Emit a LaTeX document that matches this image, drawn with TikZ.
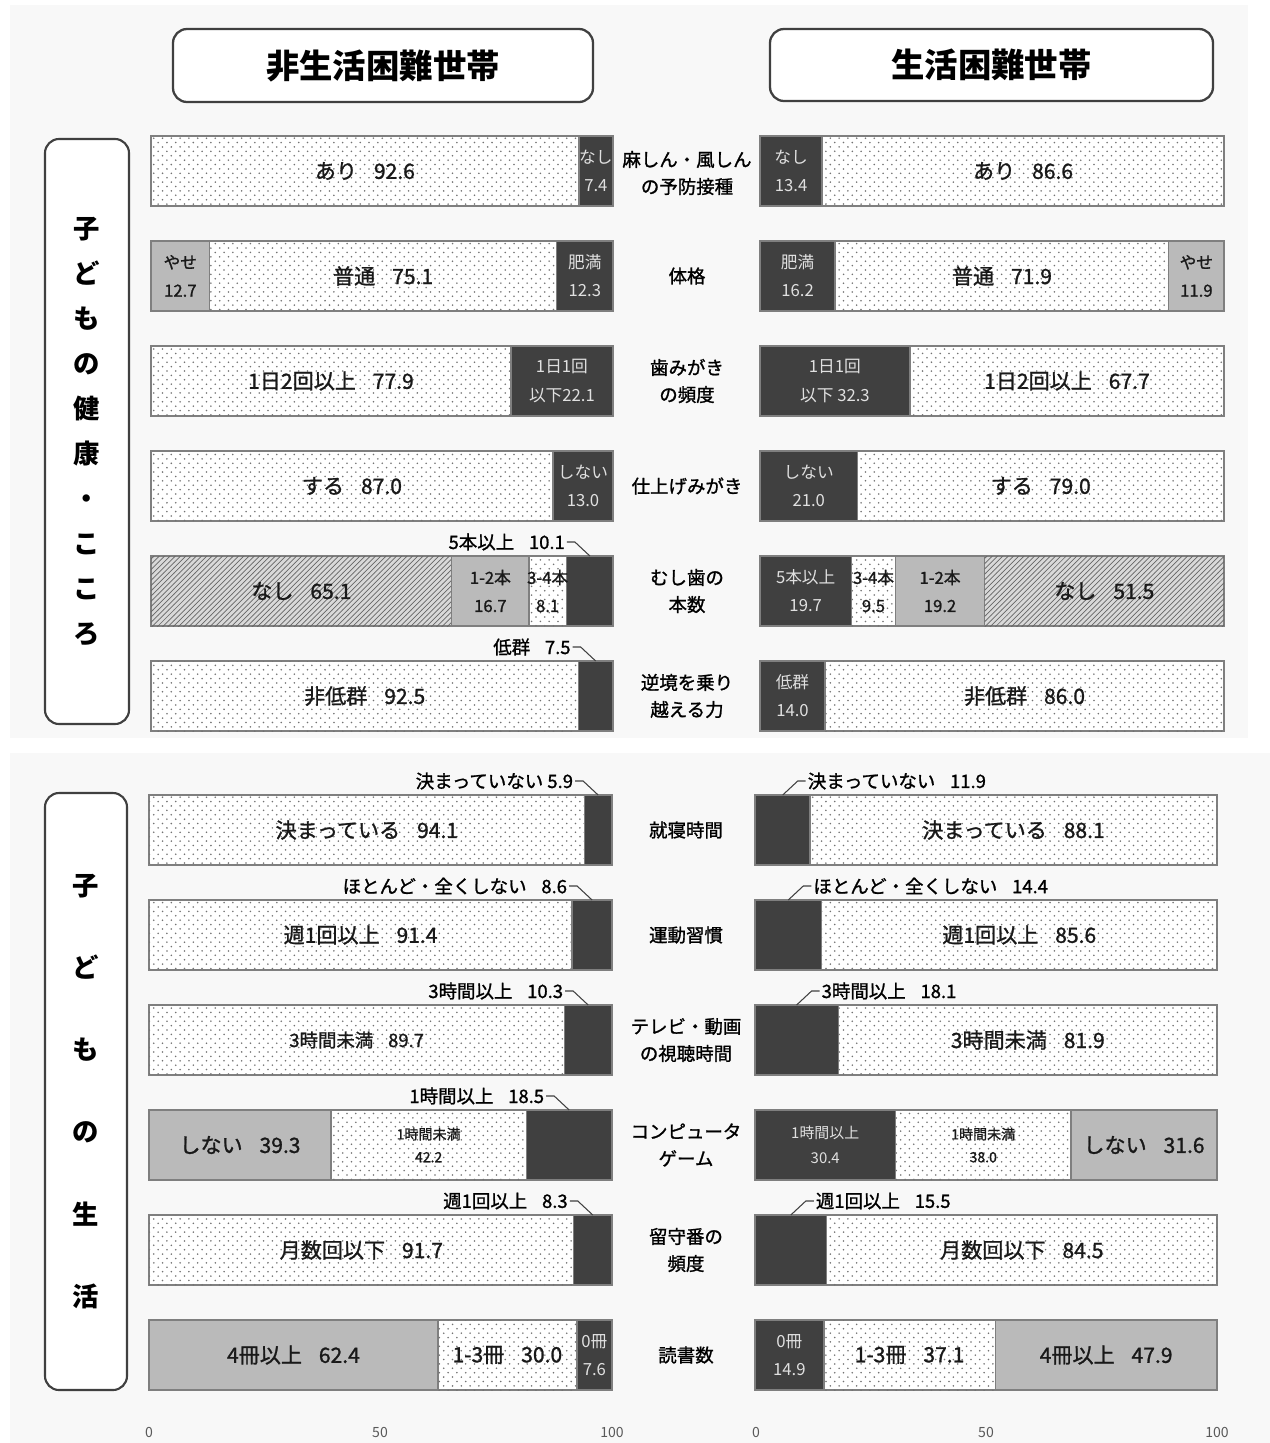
\documentclass[tikz,border=0pt]{standalone}
\usepackage{fontspec}
\setmainfont{Noto Sans CJK JP}
\newfontfamily\medfont[FakeBold=1.2]{Noto Sans CJK JP}
\usetikzlibrary{patterns}
\definecolor{segdark}{HTML}{404040}
\definecolor{seggray}{HTML}{BABABA}
\definecolor{segline}{HTML}{7F7F7F}
\definecolor{panelbg}{HTML}{F8F8F8}
\pgfdeclarepatternformonly{sparsedots}{\pgfqpoint{-.6pt}{-.6pt}}{\pgfqpoint{3.1pt}{3.1pt}}{\pgfqpoint{5pt}{5pt}}{%
  \pgfpathcircle{\pgfqpoint{0pt}{0pt}}{.5pt}%
  \pgfpathcircle{\pgfqpoint{2.5pt}{2.5pt}}{.5pt}%
  \pgfusepath{fill}}
\newcommand\gp{\hspace{.8em}}

\begin{document}
\begin{tikzpicture}[x=0.2mm,y=-0.2mm,
  seg/.style={draw=segline,line width=.8pt},
  darkbox/.style={seg,fill=segdark},
  graybox/.style={seg,fill=seggray},
  dotbox/.style={seg,fill=white,postaction={pattern=sparsedots,pattern color=black!55}},
  hatchbox/.style={seg,fill=black!15,postaction={pattern=north east lines,pattern color=black!60}},
  lab/.style={font=\medfont\fontsize{12}{14}\selectfont,text=black!90,inner sep=0pt},
  mlab/.style={font=\medfont\fontsize{10.5}{13}\selectfont,text=black!90,inner sep=0pt},
  wlab/.style={font=\fontsize{9.5}{16}\selectfont,text=white!88!black,align=center,inner sep=0pt},
  slab/.style={font=\medfont\fontsize{9.5}{16}\selectfont,text=black!90,align=center,inner sep=0pt},
  tlab/.style={font=\medfont\fontsize{8}{13}\selectfont,text=black!90,align=center,inner sep=0pt},
  item/.style={font=\medfont\fontsize{10.5}{15.4}\selectfont,align=center,inner sep=0pt},
  callout/.style={font=\medfont\fontsize{10.5}{12}\selectfont,inner sep=1pt},
  leader/.style={draw=black!75,line width=.6pt},
  head/.style={draw=black!75,line width=1.3pt,rounded corners=8pt,fill=white,font=\fontsize{19}{22}\selectfont\bfseries},
  side/.style={draw=black!75,line width=1.2pt,rounded corners=8pt,fill=white,align=center,inner sep=0pt},
  tick/.style={font=\fontsize{8}{10}\selectfont,text=black!65}]
\useasboundingbox (0,0) rectangle (1270,1443);
\fill[panelbg] (10,5) rectangle (1248,738);
\fill[panelbg] (10,753) rectangle (1270,1443);

\node[head,minimum width=84mm,minimum height=14.6mm] (hl) at (383,65.5) {非生活困難世帯};
\node[head,minimum width=88.6mm,minimum height=14.4mm] (hr) at (991.5,65) {生活困難世帯};
\node[side,minimum width=16.8mm,minimum height=117mm,font=\fontsize{15}{25.6}\selectfont\bfseries] (s1) at (87,431.5)
  {子\\ど\\も\\の\\健\\康\\・\\こ\\こ\\ろ};
\node[side,minimum width=16.4mm,minimum height=119.4mm,font=\fontsize{15}{46.7}\selectfont\bfseries] (s2) at (86,1091.5)
  {子\\ど\\も\\の\\生\\活};

\begin{scope}[shift={(151,0)},x=0.924mm]
\draw[dotbox] (0,136) rectangle (92.6,206);
\draw[darkbox] (92.6,136) rectangle (100,206);
\draw[graybox] (0,241) rectangle (12.7,311);
\draw[dotbox] (12.7,241) rectangle (87.8,311);
\draw[darkbox] (87.8,241) rectangle (100,311);
\draw[dotbox] (0,346) rectangle (77.9,416);
\draw[darkbox] (77.9,346) rectangle (100,416);
\draw[dotbox] (0,451) rectangle (87,521);
\draw[darkbox] (87,451) rectangle (100,521);
\draw[hatchbox] (0,556) rectangle (65.1,626);
\draw[graybox] (65.1,556) rectangle (81.8,626);
\draw[dotbox] (81.8,556) rectangle (89.9,626);
\draw[darkbox] (89.9,556) rectangle (100,626);
\draw[dotbox] (0,661) rectangle (92.5,731);
\draw[darkbox] (92.5,661) rectangle (100,731);
\node[lab] (a1) at (46.3,171) {あり\gp 92.6};
\node[wlab] (a1d) at (96.3,171) {なし\\7.4};
\node[slab] (a2g) at (6.35,276) {やせ\\12.7};
\node[lab] (a2) at (50.25,276) {普通\gp 75.1};
\node[wlab] (a2d) at (93.9,276) {肥満\\12.3};
\node[lab] (a3) at (38.95,381) {1日2回以上\gp 77.9};
\node[wlab] (a3d) at (88.95,381) {1日1回\\以下22.1};
\node[lab] (a4) at (43.5,486) {する\gp 87.0};
\node[wlab] (a4d) at (93.5,486) {しない\\13.0};
\node[lab] (a5) at (32.55,591) {なし\gp 65.1};
\node[slab] (a5g) at (73.45,591) {1-2本\\16.7};
\node[slab] (a5p) at (85.85,591) {3-4本\\8.1};
\node[lab] (a6) at (46.25,696) {非低群\gp 92.5};
\coordinate (a5c) at (95,556);
\node[callout,anchor=east] (a5t) at ([shift={(-4.6mm,2.8mm)}]a5c) {5本以上\gp 10.1};
\draw[leader] (a5t.east) -- ++(1.6mm,0) -- (a5c);
\coordinate (a6c) at (96.25,661);
\node[callout,anchor=east] (a6t) at ([shift={(-4.6mm,2.8mm)}]a6c) {低群\gp 7.5};
\draw[leader] (a6t.east) -- ++(1.6mm,0) -- (a6c);
\end{scope}

\begin{scope}[shift={(760,0)},x=0.928mm]
\draw[darkbox] (0,136) rectangle (13.4,206);
\draw[dotbox] (13.4,136) rectangle (100,206);
\draw[darkbox] (0,241) rectangle (16.2,311);
\draw[dotbox] (16.2,241) rectangle (88.1,311);
\draw[graybox] (88.1,241) rectangle (100,311);
\draw[darkbox] (0,346) rectangle (32.3,416);
\draw[dotbox] (32.3,346) rectangle (100,416);
\draw[darkbox] (0,451) rectangle (21,521);
\draw[dotbox] (21,451) rectangle (100,521);
\draw[darkbox] (0,556) rectangle (19.7,626);
\draw[dotbox] (19.7,556) rectangle (29.2,626);
\draw[graybox] (29.2,556) rectangle (48.4,626);
\draw[hatchbox] (48.4,556) rectangle (100,626);
\draw[darkbox] (0,661) rectangle (14,731);
\draw[dotbox] (14,661) rectangle (100,731);
\node[wlab] (b1d) at (6.7,171) {なし\\13.4};
\node[lab] (b1) at (56.7,171) {あり\gp 86.6};
\node[wlab] (b2d) at (8.1,276) {肥満\\16.2};
\node[lab] (b2) at (52.15,276) {普通\gp 71.9};
\node[slab] (b2g) at (94.05,276) {やせ\\11.9};
\node[wlab] (b3d) at (16.15,381) {1日1回\\以下 32.3};
\node[lab] (b3) at (66.15,381) {1日2回以上\gp 67.7};
\node[wlab] (b4d) at (10.5,486) {しない\\21.0};
\node[lab] (b4) at (60.5,486) {する\gp 79.0};
\node[wlab] (b5d) at (9.85,591) {5本以上\\19.7};
\node[slab] (b5p) at (24.45,591) {3-4本\\9.5};
\node[slab] (b5g) at (38.8,591) {1-2本\\19.2};
\node[lab] (b5) at (74.2,591) {なし\gp 51.5};
\node[wlab] (b6d) at (7,696) {低群\\14.0};
\node[lab] (b6) at (57,696) {非低群\gp 86.0};
\end{scope}

\node[item] (m1) at (687,173) {麻しん・風しん\\の予防接種};
\node[item] (m2) at (687,276) {体格};
\node[item] (m3) at (687,381) {歯みがき\\の頻度};
\node[item] (m4) at (687,486) {仕上げみがき};
\node[item] (m5) at (687,591) {むし歯の\\本数};
\node[item] (m6) at (687,696) {逆境を乗り\\越える力};

\begin{scope}[shift={(149,0)},x=0.926mm]
\draw[dotbox] (0,795) rectangle (94.1,865);
\draw[darkbox] (94.1,795) rectangle (100,865);
\draw[dotbox] (0,900) rectangle (91.4,970);
\draw[darkbox] (91.4,900) rectangle (100,970);
\draw[dotbox] (0,1005) rectangle (89.7,1075);
\draw[darkbox] (89.7,1005) rectangle (100,1075);
\draw[graybox] (0,1110) rectangle (39.3,1180);
\draw[dotbox] (39.3,1110) rectangle (81.5,1180);
\draw[darkbox] (81.5,1110) rectangle (100,1180);
\draw[dotbox] (0,1215) rectangle (91.7,1285);
\draw[darkbox] (91.7,1215) rectangle (100,1285);
\draw[graybox] (0,1320) rectangle (62.4,1390);
\draw[dotbox] (62.4,1320) rectangle (92.4,1390);
\draw[darkbox] (92.4,1320) rectangle (100,1390);
\node[lab] (c1) at (47.05,830) {決まっている\gp 94.1};
\node[lab] (c2) at (45.7,935) {週1回以上\gp 91.4};
\node[mlab] (c3) at (44.85,1040) {3時間未満\gp 89.7};
\node[lab] (c4g) at (19.65,1145) {しない\gp 39.3};
\node[tlab] (c4) at (60.4,1145) {1時間未満\\42.2};
\node[lab] (c5) at (45.85,1250) {月数回以下\gp 91.7};
\node[lab] (c6g) at (31.2,1355) {4冊以上\gp 62.4};
\node[lab] (c6) at (77.4,1355) {1-3冊\gp 30.0};
\node[wlab] (c6d) at (96.2,1355) {0冊\\7.6};
\coordinate (c1c) at (97,795);
\node[callout,anchor=east] (c1t) at ([shift={(-4.6mm,2.8mm)}]c1c) {決まっていない 5.9};
\draw[leader] (c1t.east) -- ++(1.6mm,0) -- (c1c);
\coordinate (c2c) at (95.7,900);
\node[callout,anchor=east] (c2t) at ([shift={(-4.6mm,2.8mm)}]c2c) {ほとんど・全くしない\gp 8.6};
\draw[leader] (c2t.east) -- ++(1.6mm,0) -- (c2c);
\coordinate (c3c) at (94.85,1005);
\node[callout,anchor=east] (c3t) at ([shift={(-4.6mm,2.8mm)}]c3c) {3時間以上\gp 10.3};
\draw[leader] (c3t.east) -- ++(1.6mm,0) -- (c3c);
\coordinate (c4c) at (90.75,1110);
\node[callout,anchor=east] (c4t) at ([shift={(-4.6mm,2.8mm)}]c4c) {1時間以上\gp 18.5};
\draw[leader] (c4t.east) -- ++(1.6mm,0) -- (c4c);
\coordinate (c5c) at (95.85,1215);
\node[callout,anchor=east] (c5t) at ([shift={(-4.6mm,2.8mm)}]c5c) {週1回以上\gp 8.3};
\draw[leader] (c5t.east) -- ++(1.6mm,0) -- (c5c);
\end{scope}

\begin{scope}[shift={(755,0)},x=0.924mm]
\draw[darkbox] (0,795) rectangle (11.9,865);
\draw[dotbox] (11.9,795) rectangle (100,865);
\draw[darkbox] (0,900) rectangle (14.4,970);
\draw[dotbox] (14.4,900) rectangle (100,970);
\draw[darkbox] (0,1005) rectangle (18.1,1075);
\draw[dotbox] (18.1,1005) rectangle (100,1075);
\draw[darkbox] (0,1110) rectangle (30.4,1180);
\draw[dotbox] (30.4,1110) rectangle (68.4,1180);
\draw[graybox] (68.4,1110) rectangle (100,1180);
\draw[darkbox] (0,1215) rectangle (15.5,1285);
\draw[dotbox] (15.5,1215) rectangle (100,1285);
\draw[darkbox] (0,1320) rectangle (14.9,1390);
\draw[dotbox] (14.9,1320) rectangle (52,1390);
\draw[graybox] (52,1320) rectangle (100,1390);
\node[lab] (d1) at (55.95,830) {決まっている\gp 88.1};
\node[lab] (d2) at (57.2,935) {週1回以上\gp 85.6};
\node[lab] (d3) at (59.05,1040) {3時間未満\gp 81.9};
\node[wlab,font=\fontsize{8.5}{14}\selectfont] (d4d) at (15.2,1145) {1時間以上\\30.4};
\node[tlab] (d4) at (49.4,1145) {1時間未満\\38.0};
\node[lab] (d4g) at (84.2,1145) {しない\gp 31.6};
\node[lab] (d5) at (57.75,1250) {月数回以下\gp 84.5};
\node[wlab] (d6d) at (7.45,1355) {0冊\\14.9};
\node[lab] (d6) at (33.45,1355) {1-3冊\gp 37.1};
\node[lab] (d6g) at (76,1355) {4冊以上\gp 47.9};
\coordinate (d1c) at (6,795);
\node[callout,anchor=west] (d1t) at ([shift={(4.6mm,2.8mm)}]d1c) {決まっていない\gp 11.9};
\draw[leader] (d1c) -- ([xshift=-1.6mm]d1t.west) -- (d1t.west);
\coordinate (d2c) at (7.2,900);
\node[callout,anchor=west] (d2t) at ([shift={(4.6mm,2.8mm)}]d2c) {ほとんど・全くしない\gp 14.4};
\draw[leader] (d2c) -- ([xshift=-1.6mm]d2t.west) -- (d2t.west);
\coordinate (d3c) at (9,1005);
\node[callout,anchor=west] (d3t) at ([shift={(4.6mm,2.8mm)}]d3c) {3時間以上\gp 18.1};
\draw[leader] (d3c) -- ([xshift=-1.6mm]d3t.west) -- (d3t.west);
\coordinate (d5c) at (7.75,1215);
\node[callout,anchor=west] (d5t) at ([shift={(4.6mm,2.8mm)}]d5c) {週1回以上\gp 15.5};
\draw[leader] (d5c) -- ([xshift=-1.6mm]d5t.west) -- (d5t.west);
\end{scope}

\node[item] (n1) at (686,830) {就寝時間};
\node[item] (n2) at (686,935) {運動習慣};
\node[item] (n3) at (686,1040) {テレビ・動画\\の視聴時間};
\node[item] (n4) at (686,1145) {コンピュータ\\ゲーム};
\node[item] (n5) at (686,1250) {留守番の\\頻度};
\node[item] (n6) at (686,1355) {読書数};

\node[tick] (x0) at (149,1432) {0};
\node[tick] (x1) at (380,1432) {50};
\node[tick] (x2) at (612,1432) {100};
\node[tick] (y0) at (756,1432) {0};
\node[tick] (y1) at (986,1432) {50};
\node[tick] (y2) at (1217,1432) {100};
\end{tikzpicture}
\end{document}
